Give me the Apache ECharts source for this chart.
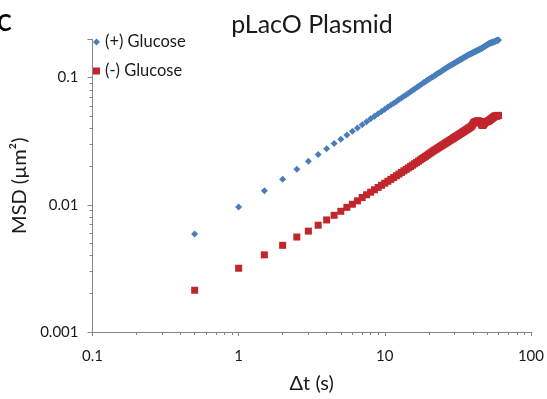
<!DOCTYPE html>
<html>
<head>
<meta charset="utf-8">
<script src="https://cdn.jsdelivr.net/npm/echarts@6/dist/echarts.min.js"></script>
<style>
html,body{margin:0;padding:0;background:#fff;}
#chart{width:547px;height:399px;}
</style>
</head>
<body>
<div id="chart"></div>
<script>
// Lag times (s)
var times = [0.5,1,1.5,2,2.5,3,3.5,4,4.5,5,5.5,6,6.5,7,7.5,8,8.5,9,9.5,10,
  10.5,11,11.5,12,12.5,13,13.5,14,14.5,15,15.5,16,16.5,17,17.5,18,18.5,19,19.5,20,
  20.5,21,21.5,22,22.5,23,23.5,24,24.5,25,25.5,26,26.5,27,27.5,28,28.5,29,29.5,30,
  30.5,31,31.5,32,32.5,33,33.5,34,34.5,35,35.5,36,36.5,37,37.5,38,38.5,39,39.5,40,
  40.5,41,41.5,42,42.5,43,43.5,44,44.5,45,45.5,46,46.5,47,47.5,48,48.5,49,49.5,50,
  50.5,51,51.5,52,52.5,53,53.5,54,54.5,55,55.5,56,56.5,57,57.5,58,58.5,59,59.5,60];

// (+) Glucose MSD (um^2)
var plusGlucose = [0.0059,0.0096,0.0129,0.0159,0.0190,0.0220,0.0248,0.0276,0.0303,0.0328,
  0.0354,0.0378,0.0402,0.0426,0.0450,0.0474,0.0497,0.0519,0.0542,0.0564,
  0.0586,0.0608,0.0629,0.0650,0.0672,0.0692,0.0713,0.0734,0.0754,0.0775,
  0.0795,0.0815,0.0835,0.0854,0.0874,0.0893,0.0913,0.0932,0.0951,0.0969,
  0.0987,0.1004,0.1022,0.1040,0.1057,0.1075,0.1092,0.1109,0.1127,0.1144,
  0.1161,0.1177,0.1194,0.1211,0.1227,0.1242,0.1257,0.1272,0.1287,0.1301,
  0.1316,0.1330,0.1345,0.1359,0.1373,0.1388,0.1402,0.1416,0.1430,0.1444,
  0.1458,0.1472,0.1485,0.1499,0.1511,0.1523,0.1534,0.1546,0.1557,0.1568,
  0.1580,0.1591,0.1602,0.1613,0.1624,0.1635,0.1646,0.1657,0.1668,0.1678,
  0.1689,0.1700,0.1712,0.1726,0.1740,0.1753,0.1767,0.1781,0.1794,0.1808,
  0.1821,0.1835,0.1844,0.1852,0.1860,0.1868,0.1876,0.1884,0.1892,0.1900,
  0.1908,0.1916,0.1924,0.1932,0.1940,0.1947,0.1955,0.1962,0.1970,0.1978];

// (-) Glucose MSD (um^2)
var minusGlucose = [0.00213,0.00317,0.00404,0.00480,0.00558,0.00621,0.00691,0.00760,0.00827,0.00889,
  0.00955,0.0101,0.01074,0.0114,0.01199,0.01256,0.01313,0.01369,0.01424,0.01478,
  0.01531,0.01585,0.01638,0.01692,0.01744,0.01797,0.01848,0.01899,0.0195,0.0200,
  0.0205,0.02102,0.02153,0.02204,0.02255,0.02306,0.02356,0.02406,0.02455,0.02505,
  0.02554,0.02603,0.02651,0.02697,0.02742,0.02786,0.02831,0.02875,0.02919,0.02962,
  0.03006,0.03049,0.03092,0.03135,0.03177,0.03219,0.03261,0.03303,0.03345,0.03387,
  0.03428,0.03469,0.03510,0.0355,0.03592,0.03633,0.03674,0.03715,0.03756,0.03797,
  0.03837,0.03878,0.03918,0.03958,0.03999,0.04038,0.04079,0.04118,0.0420,0.0430,
  0.0440,0.0446,0.0449,0.0452,0.0454,0.0455,0.0456,0.0455,0.0452,0.0446,
  0.0436,0.0425,0.0420,0.0422,0.0428,0.0436,0.0443,0.0447,0.0449,0.0451,
  0.0453,0.0455,0.0458,0.0461,0.0465,0.0469,0.0473,0.0477,0.0481,0.0485,
  0.0489,0.0493,0.0496,0.0498,0.0499,0.0500,0.0501,0.0502,0.0503,0.0505];

var seriesNames = ['(+) Glucose', '(-) Glucose'];
var chartTitle = 'pLacO Plasmid';
var panelLabel = 'C';
var xTitle = '\u0394t (s)';
var yTitle = 'MSD (\u00b5m\u00b2)';
var X_MIN = 0.1, X_MAX = 100, Y_MIN = 0.001, Y_MAX = 0.2;

function pairs(xs, ys){ return xs.map(function(x,i){ return [x, ys[i]]; }); }
function decadeLabel(v){
  var e = Math.log10(v);
  if (Math.abs(e - Math.round(e)) > 1e-6) return '';
  return String(parseFloat(v.toPrecision(1)));
}
var AXIS_GRAY = '#868686';
var FONT = 'Lato';
var chart = echarts.init(document.getElementById('chart'), null, {renderer:'canvas'});
chart.setOption({
  animation: false,
  backgroundColor: '#ffffff',
  textStyle: {fontFamily: FONT},
  title: [{
    text: chartTitle, left: 307, top: 7, textAlign: 'center',
    textStyle: {fontFamily: FONT, fontSize: 25, fontWeight: 'normal', color: '#1a1a1a'}
  }],
  graphic: [{
    type: 'text', left: -3, top: 13,
    style: {text: panelLabel, font: 'bold 22px ' + FONT, fill: '#000'}
  }],
  legend: {
    orient: 'vertical', left: 88, top: 28,
    itemWidth: 7, itemHeight: 7, itemGap: 11,
    textStyle: {fontFamily: FONT, fontSize: 16.5, color: '#1a1a1a', lineHeight: 18},
    data: [{name: seriesNames[0], icon: 'diamond'}, {name: seriesNames[1], icon: 'rect'}]
  },
  grid: {left: 92.5, right: 10.3, top: 39.3, bottom: 63.5, containLabel: false},
  xAxis: {
    type: 'log', logBase: 10, min: X_MIN, max: X_MAX,
    name: xTitle, nameLocation: 'middle', nameGap: 42,
    nameTextStyle: {fontFamily: FONT, fontSize: 20, color: '#1a1a1a'},
    axisLine: {show: true, onZero: false, lineStyle: {color: AXIS_GRAY, width: 1}},
    axisTick: {show: true, inside: false, length: 4, lineStyle: {color: AXIS_GRAY}},
    minorTick: {show: true, splitNumber: 9, length: 3, lineStyle: {color: AXIS_GRAY}},
    axisLabel: {margin: 17, fontFamily: FONT, fontSize: 15, color: '#1a1a1a', formatter: decadeLabel},
    splitLine: {show: false}
  },
  yAxis: {
    type: 'log', logBase: 10, min: Y_MIN, max: Y_MAX,
    name: yTitle, nameLocation: 'middle', nameGap: 60, nameRotate: 90,
    nameTextStyle: {fontFamily: FONT, fontSize: 20, color: '#1a1a1a'},
    axisLine: {show: true, onZero: false, lineStyle: {color: AXIS_GRAY, width: 1}},
    axisTick: {show: true, inside: false, length: 5, lineStyle: {color: AXIS_GRAY}},
    minorTick: {show: true, splitNumber: 9, length: 3, lineStyle: {color: AXIS_GRAY}},
    axisLabel: {margin: 14, fontFamily: FONT, fontSize: 15, color: '#1a1a1a', formatter: decadeLabel},
    splitLine: {show: false}
  },
  series: [{
    name: seriesNames[0], type: 'scatter', symbol: 'diamond', symbolSize: 7,
    itemStyle: {color: '#4a7ebb', opacity: 1}, data: pairs(times, plusGlucose)
  }, {
    name: seriesNames[1], type: 'scatter', symbol: 'rect', symbolSize: 7,
    itemStyle: {color: '#c0262c', opacity: 1}, data: pairs(times, minusGlucose)
  }]
});
</script>
</body>
</html>
